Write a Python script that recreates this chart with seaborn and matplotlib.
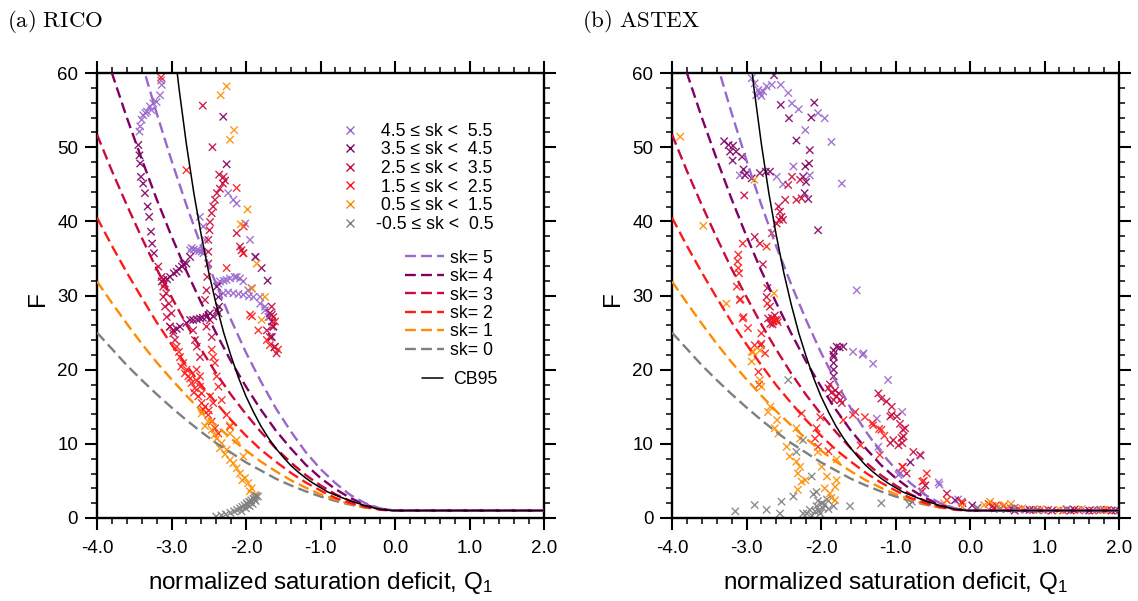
import numpy as np
import pandas as pd
import matplotlib
matplotlib.use("Agg")
import matplotlib.pyplot as plt
from matplotlib.lines import Line2D
from matplotlib.ticker import MultipleLocator
import seaborn as sns

sns.set_style("ticks")
plt.rcParams['font.family'] = ['Liberation Sans', 'DejaVu Sans']
plt.rcParams['mathtext.fontset'] = 'custom'
plt.rcParams['mathtext.rm'] = 'Liberation Sans'
plt.rcParams['mathtext.it'] = 'Liberation Sans:italic'
for k in ['text.color', 'axes.labelcolor', 'xtick.color', 'ytick.color', 'axes.edgecolor']:
    plt.rcParams[k] = 'black'

# ---------------- data ----------------
classes = ["4.5 ≤ sk <  5.5", "3.5 ≤ sk <  4.5", "2.5 ≤ sk <  3.5",
           "1.5 ≤ sk <  2.5", "0.5 ≤ sk <  1.5", "-0.5 ≤ sk <  0.5"]
class_colors = ["#9966CC", "#800064", "#C80A3C", "#FF1A1A", "#FF8C00", "#7F7F7F"]

# RICO
rico_sk5_q = [-3.14,-3.13,-3.154,-3.2,-3.244,-3.29,-3.33,-3.38,-3.40,-3.42,-3.43,-3.27,-3.35,
              -2.73,-2.66,-2.595,-2.75,-2.70,-2.63,-2.57,-2.62,-2.573,-2.55,
              -2.24,-2.17,-2.125,-2.01,-1.946,-1.88,
              -2.35,-2.215,-2.125,-2.036,-1.97,-2.37,-2.26,-2.15,-1.924,-1.81,-1.745,-1.70,-2.30,-2.08,
              -2.305,-2.17,-2.036,-1.90,-1.81,-1.745,-1.68,-1.655,-1.655,-2.24,-2.10,-1.96]
rico_sk5_f = [59.0,58.4,57.0,56.1,55.9,55.5,54.8,54.3,53.7,52.8,52.1,55.0,54.6,
              36.4,36.1,35.9,36.1,36.2,36.0,35.7,40.6,39.3,37.5,
              43.8,42.9,42.4,39.7,37.5,35.2,
              31.9,32.3,32.5,31.9,30.7,31.6,32.1,32.5,31.0,29.8,28.5,27.1,32.0,32.3,
              30.3,30.3,30.1,29.8,28.9,28.0,27.1,25.8,24.4,30.4,30.2,29.9]
rico_sk4_q = [-3.445,-3.43,-3.42,-3.41,-3.38,-3.356,-3.32,-3.30,-3.275,-3.26,-3.235,
              -3.11,-3.02,-2.93,-2.86,-2.80,-2.75,-3.13,-2.97,-2.84,-3.06,-2.90,
              -2.976,-2.886,-2.80,-2.71,-2.617,-2.53,-2.44,-2.37,-2.36,-2.37,-2.39,
              -3.02,-2.75,-2.483,-2.39,-2.93,-2.66,-2.58,
              -2.305,-2.26,-1.87,-1.79,-1.71,-1.68,-1.633,-1.655,-1.62,-1.65]
rico_sk4_f = [50.3,48.9,47.8,46.0,45.1,43.8,42.0,40.6,38.6,37.0,35.7,
              32.1,32.5,33.2,33.9,34.3,35.2,31.9,33.0,34.2,32.2,33.6,
              25.3,25.8,26.3,26.7,26.9,27.1,27.2,27.6,28.5,29.8,31.2,
              25.8,26.7,27.6,28.0,25.5,26.8,27.0,
              54.1,47.7,35.2,33.7,32.0,27.6,25.8,24.4,23.0,26.5]
rico_sk3_q = [-2.58,-2.45,-2.36,-2.31,-2.35,-2.39,-2.416,-2.44,-2.46,-2.483,-2.49,-2.506,-2.506,-2.506,-2.52,-2.53,-2.55,
              -2.125,-2.06,-1.655,-1.633,-1.68,-2.08,-2.036,-1.72,-1.61,-1.59,-1.633,-1.655,
              -3.177,-3.133,-3.11,-3.11,-3.087,-3.064,-3.02,-2.976,-2.953,-3.09,-3.07,-3.034,-3.0,
              -2.71,-2.685,-2.66,-2.617,-2.53,-2.46,-2.483,-2.30,-2.28]
rico_sk3_f = [55.6,50.0,46.3,45.1,44.4,43.8,42.9,42.0,41.1,39.9,38.8,37.5,35.9,34.3,32.5,30.7,29.4,
              38.4,36.1,27.4,25.8,24.4,36.6,35.7,25.3,23.1,22.2,27.1,28.5,
              33.9,32.5,31.2,29.8,28.5,27.1,25.8,24.9,24.0,31.6,30.3,28.9,27.6,
              25.3,24.0,23.1,21.7,25.8,24.4,26.7,46.0,45.5]
rico_sk2_q = [-2.93,-2.886,-2.842,-2.796,-2.774,-2.73,-2.685,-2.64,-2.595,-2.573,-2.506,-2.46,-2.416,-2.37,
              -2.663,-2.617,-2.617,-2.595,-2.483,-2.44,-2.326,-2.26,-2.215,
              -2.46,-2.44,-2.416,-2.393,-2.37,
              -2.80,-2.125,-2.26,-1.92,-2.03,-2.036,-3.14,
              -1.946,-1.835,-1.72,-1.61,-1.68,-1.57,
              -2.82,-2.75,-2.70,-2.66,-2.55,-2.50,-2.87,-2.90]
rico_sk2_f = [23.1,21.7,20.9,20.0,19.1,18.2,17.5,16.4,15.5,14.6,13.9,13.0,12.1,11.4,
              20.0,19.1,17.7,16.8,16.4,15.5,15.9,13.9,12.3,
              22.7,21.7,20.9,19.1,17.7,
              46.9,44.5,33.7,27.2,39.3,35.7,59.4,
              27.4,25.3,24.0,26.5,23.3,22.7,
              19.5,18.8,16.9,18.5,15.0,14.5,20.4,22.4]
rico_sk1_q = [-2.595,-2.506,-2.46,-2.393,-2.326,-2.259,-2.215,-2.17,-2.125,-2.08,-2.013,-1.97,-1.924,-1.88,
              -2.215,-2.125,-2.036,-2.215,-2.35,-2.28,-2.05,-1.95,-2.55,-2.42,
              -2.26,-2.34,-2.16,-2.215,-1.98,-2.07,-1.856,-1.92,-1.745,-1.79]
rico_sk1_f = [14.1,13.0,11.9,10.7,10.1,9.2,7.8,7.4,6.7,6.0,5.4,4.7,4.0,3.1,
              12.5,10.5,8.3,11.4,9.4,8.6,5.1,3.6,12.4,11.2,
              58.2,57.0,52.3,51.0,41.6,39.6,34.3,30.9,29.8,26.7]
rico_sk0_q = [-2.40,-2.33,-2.27,-2.21,-2.16,-2.12,-2.08,-2.05,-2.02,-1.99,-1.96,-1.93,-1.90,-1.88,-1.86,
              -1.84,-1.87,-1.91,-1.95,-2.00,-2.06,-1.89,-1.94,-1.98]
rico_sk0_f = [0.2,0.35,0.5,0.7,0.9,1.1,1.3,1.5,1.7,2.0,2.2,2.4,2.6,2.8,3.0,
              2.9,2.3,1.9,1.6,1.3,0.9,2.5,2.1,1.8]

# ASTEX
astex_sk5_q = [-2.93,-2.89,-2.84,-2.82,-2.775,-2.73,-2.66,-2.54,-2.44,-2.39,-2.30,-2.21,-2.04,-1.95,-1.86,-1.72,
               -1.52,-1.43,-2.15,-2.37,-2.595,-2.51,-3.0,-3.09,-2.87,-2.80,
               -1.57,-1.30,-1.10,-0.91,-1.25,-1.23,-0.94,-0.42,-0.65,-0.78,-0.66,-0.96,-0.41,-0.16,-1.44,
               0.1,0.5,0.75,1.0,1.3,1.55,1.8,2.0]
astex_sk5_f = [59.3,58.6,57.7,57.3,57.5,58.2,58.4,58.4,57.3,55.9,55.1,52.3,54.6,53.9,50.7,45.1,
               30.7,22.2,46.2,47.4,46.0,45.0,46.5,46.2,57.0,56.9,
               22.4,20.8,18.6,14.3,13.4,9.6,6.0,4.8,3.5,2.2,8.4,5.8,4.5,2.5,22.0,
               1.4,1.2,1.1,1.0,1.1,1.0,1.1,1.0]
astex_sk4_q = [-2.63,-2.54,-2.43,-2.33,-2.15,-2.09,-2.13,-2.21,-2.24,-2.22,-2.04,-2.16,-2.20,-2.17,
               -3.30,-3.24,-3.18,-3.22,-3.14,-3.186,-3.06,-3.04,-3.02,-2.93,-2.82,-2.74,-2.685,
               -1.835,-1.79,-1.70,-1.83,-1.83,-1.83,-1.83,-1.83,-1.75,-0.80,-0.60,
               0.03,0.33,0.60,0.8,1.1,1.4,1.6,1.9,-0.2]
astex_sk4_f = [59.7,55.7,53.9,50.9,49.6,56.0,54.0,47.4,46.0,43.8,38.8,47.8,45.3,43.0,
               50.8,50.3,50.2,49.4,49.4,48.2,48.7,47.0,46.2,45.8,46.5,46.7,46.7,
               22.0,23.1,23.1,22.6,21.7,20.9,20.0,19.1,23.0,7.5,4.4,
               1.7,1.3,1.0,1.1,1.0,1.1,1.0,1.0,2.4]
astex_sk3_q = [-2.57,-2.55,-2.53,-2.51,-2.56,-2.595,-2.48,-2.39,-2.33,-2.26,-2.44,-2.28,-3.03,-2.89,-2.78,-2.82,
               -2.72,-2.73,-2.685,-2.81,-2.65,
               -2.71,-2.64,-2.59,-2.68,-2.62,-2.66,
               -1.90,-1.86,-1.79,-1.74,-1.83,-1.72,-1.88,-1.81,-1.76,
               -1.23,-1.19,-1.12,-1.05,-1.05,-0.98,-0.94,-0.90,-0.89,-0.91,-0.96,-0.92,-0.87,-1.07,-1.03,-1.07,
               -0.85,-0.76,-0.67,
               -0.31,-0.1,0.3,0.55,0.9,1.35,1.75,1.95]
astex_sk3_f = [42.0,41.3,40.6,40.2,40.2,39.7,42.9,46.0,42.9,43.1,44.9,45.6,43.5,37.9,34.2,37.0,
               31.0,29.8,28.5,23.3,26.1,
               26.9,26.5,26.7,26.2,27.3,27.0,
               17.5,16.9,16.4,15.9,15.9,15.5,18.0,17.2,16.8,
               16.8,16.1,15.7,15.0,13.9,13.7,12.7,11.9,11.0,10.1,9.8,10.8,12.1,13.7,10.5,10.1,
               6.0,8.9,8.5,
               3.3,2.0,1.6,1.3,1.1,1.0,1.1,1.0]
astex_sk2_q = [-3.11,-3.12,-3.11,-3.10,-3.13,-3.08,-3.05,-2.98,-3.05,-2.89,-2.75,-2.73,-2.66,-2.64,-2.61,-2.58,
               -3.09,-2.72,-3.04,-2.80,-2.80,-2.84,-2.83,
               -2.26,-2.01,-2.06,-2.08,-2.04,-1.90,-1.70,-1.57,-1.41,-1.30,-1.19,-1.21,-0.91,-0.64,-0.58,-0.64,
               -1.54,-1.31,-1.22,-1.15,-1.47,-0.90,-0.62,-0.31,-0.11,
               0.25,0.45,0.65,0.85,1.05,1.25,1.45,1.65,1.85,0.35]
astex_sk2_f = [35.5,34.6,33.7,33.0,31.2,29.5,26.9,25.6,37.0,23.3,22.2,36.6,38.4,26.6,26.7,26.4,
               29.4,28.9,27.1,24.9,23.5,19.7,18.0,
               14.1,13.6,12.1,10.7,9.6,9.0,13.2,13.9,13.6,12.5,11.9,8.5,6.9,4.9,6.0,3.6,
               14.3,12.8,12.0,11.1,9.8,6.9,5.0,2.4,2.2,
               1.9,1.6,1.2,1.1,1.1,1.0,1.1,1.0,1.1,1.7]
astex_sk1_q = [-3.89,-3.58,-3.27,-2.63,-2.895,-2.93,-2.91,-2.82,-2.93,-2.82,-2.80,-2.68,-2.71,-2.59,-2.57,-2.62,
               -2.46,-2.42,-2.33,-2.28,-2.31,-2.21,-2.26,-2.31,-2.33,-2.28,-2.04,-1.99,-1.92,-1.95,-1.88,-1.81,
               -1.79,-1.81,-1.86,-1.79,
               -0.35,0.19,0.27,0.39,0.46,0.7,0.95,1.2,1.5,1.8,0.55,-0.1]
astex_sk1_f = [51.4,39.4,28.9,30.3,45.6,22.4,22.4,22.6,21.1,18.6,17.7,15.0,14.3,13.2,11.4,12.1,
               9.6,8.3,7.6,6.9,6.0,5.1,4.9,3.8,12.1,10.7,8.9,6.9,5.6,4.0,3.3,4.2,
               5.1,2.4,2.7,7.9,
               2.0,1.75,2.2,1.55,1.75,1.3,1.2,1.1,1.2,1.1,1.9,1.5]
astex_sk0_q = [-2.44,-2.73,-2.55,-2.53,-2.37,-2.24,-2.33,-2.125,-2.06,-2.10,-2.19,-2.15,-2.06,-1.99,-1.97,-2.01,
               -1.92,-1.83,-1.61,-1.19,-0.81,-2.24,-3.15,-2.89,-2.12,-2.08,-2.03,-1.95,-2.04,-1.90,
               0.1,0.4,0.9,1.3,1.7,0.6]
astex_sk0_f = [18.6,1.1,0.6,2.2,2.9,10.5,8.9,5.6,3.5,3.2,0.6,1.1,1.6,2.0,1.3,0.6,
               2.5,1.6,1.6,2.0,1.8,0.6,0.9,1.75,0.3,0.9,1.0,1.8,2.3,1.2,
               1.3,1.2,1.1,1.2,1.1,1.4]

# theoretical curves
curve_q = [-4.0,-3.8,-3.6,-3.4,-3.2,-3.0,-2.8,-2.6,-2.4,-2.2,-2.0,-1.8,-1.6,-1.4,-1.2,-1.0,
           -0.8,-0.6,-0.4,-0.2,0.0,2.0]
sk5_f = [84.2,76.2,68.6,61.4,54.6,48.2,42.2,36.6,31.5,26.7,22.3,18.4,14.8,11.7,8.9,6.6,4.7,3.1,2.0,1.3,1.0,1.0]
sk4_f = [66.3,60.0,54.0,48.4,43.0,38.0,33.3,29.0,24.9,21.1,17.7,14.6,11.8,9.4,7.2,5.4,3.9,2.7,1.8,1.2,1.0,1.0]
sk3_f = [51.7,46.8,42.2,37.8,33.6,29.8,26.1,22.7,19.5,16.6,14.0,11.6,9.4,7.5,5.8,4.4,3.2,2.3,1.6,1.2,1.0,1.0]
sk2_f = [40.5,36.7,33.1,29.7,26.4,23.4,20.6,17.9,15.5,13.2,11.1,9.2,7.6,6.1,4.8,3.7,2.7,2.0,1.5,1.1,1.0,1.0]
sk1_f = [31.9,29.0,26.2,23.5,21.0,18.7,16.5,14.4,12.5,10.7,9.1,7.6,6.3,5.1,4.1,3.2,2.5,1.9,1.4,1.2,1.0,1.0]
sk0_f = [25.0,22.8,20.6,18.6,16.7,14.9,13.2,11.6,10.1,8.8,7.5,6.4,5.3,4.4,3.6,2.9,2.3,1.8,1.4,1.2,1.0,1.0]
curve_labels = ["sk= 5", "sk= 4", "sk= 3", "sk= 2", "sk= 1", "sk= 0"]
curve_colors = ["#9966CC", "#800064", "#C80A3C", "#FF1A1A", "#FF8C00", "#7F7F7F"]

cb95_q = [-3.0,-2.9,-2.8,-2.7,-2.6,-2.5,-2.4,-2.3,-2.2,-2.1,-2.0,-1.9,-1.8,-1.7,-1.6,-1.5,-1.4,-1.3,
          -1.2,-1.1,-1.0,-0.9,-0.8,-0.7,-0.6,-0.5,-0.4,-0.3,-0.2,-0.1,0.0,2.0]
cb95_f = [66.7,58.0,50.4,43.8,38.1,33.1,28.8,25.0,21.8,18.9,16.4,14.3,12.4,10.8,9.4,8.2,7.1,6.2,
          5.4,4.7,4.1,3.5,3.1,2.7,2.3,2.0,1.65,1.4,1.2,1.06,1.0,1.0]

x_ticks = [-4.0, -3.0, -2.0, -1.0, 0.0, 1.0, 2.0]
x_ticklabels = ["-4.0", "-3.0", "-2.0", "-1.0", "0.0", "1.0", "2.0"]
y_ticks = [0, 10, 20, 30, 40, 50, 60]


def panel_frame(qs, fs):
    rows = []
    for cls, q, f in zip(classes, qs, fs):
        for a, b in zip(q, f):
            rows.append((cls, a, b))
    return pd.DataFrame(rows, columns=["cls", "Q1", "F"])


rico_df = panel_frame([rico_sk5_q, rico_sk4_q, rico_sk3_q, rico_sk2_q, rico_sk1_q, rico_sk0_q],
                      [rico_sk5_f, rico_sk4_f, rico_sk3_f, rico_sk2_f, rico_sk1_f, rico_sk0_f])
astex_df = panel_frame([astex_sk5_q, astex_sk4_q, astex_sk3_q, astex_sk2_q, astex_sk1_q, astex_sk0_q],
                       [astex_sk5_f, astex_sk4_f, astex_sk3_f, astex_sk2_f, astex_sk1_f, astex_sk0_f])
curves = [sk5_f, sk4_f, sk3_f, sk2_f, sk1_f, sk0_f]

# ---------------- figure ----------------
W, H = 1138, 601
fig = plt.figure(figsize=(W / 100, H / 100), dpi=100)
ax1 = fig.add_axes([97 / W, 1 - 518 / H, 447 / W, 445 / H])
ax2 = fig.add_axes([672 / W, 1 - 518 / H, 447 / W, 445 / H])

dash = (0, (4.6, 2.2))
plot_order = classes[::-1]
pal = dict(zip(classes, class_colors))

for ax, df in ((ax1, rico_df), (ax2, astex_df)):
    sns.scatterplot(data=df, x="Q1", y="F", hue="cls", hue_order=plot_order, palette=pal,
                    marker="x", s=28, linewidth=1.0, alpha=0.9, legend=False, ax=ax, zorder=2)
    for vals, col in list(zip(curves, curve_colors))[::-1]:
        sns.lineplot(x=curve_q, y=vals, color=col, lw=1.7, linestyle=dash, ax=ax, zorder=3)
    sns.lineplot(x=cb95_q, y=cb95_f, color="black", lw=1.1, ax=ax, zorder=4)

    ax.set_xlim(-4.0, 2.0)
    ax.set_ylim(0, 60)
    ax.set_xticks(x_ticks)
    ax.set_xticklabels(x_ticklabels)
    ax.set_yticks(y_ticks)
    ax.xaxis.set_minor_locator(MultipleLocator(0.2))
    ax.yaxis.set_minor_locator(MultipleLocator(2))
    ax.tick_params(which="both", direction="out", top=True, right=True,
                   labeltop=False, labelright=False, labelsize=13.5, colors="black")
    ax.tick_params(axis="x", which="major", pad=7)
    ax.tick_params(axis="y", which="major", pad=5)
    ax.tick_params(which="major", length=8.5, width=1.5)
    ax.tick_params(which="minor", length=4.2, width=1.1)
    for sp in ax.spines.values():
        sp.set_linewidth(1.7)
        sp.set_color("black")
        sp.set_visible(True)
    ax.set_xlabel("normalized saturation deficit, Q$_1$", fontsize=17.5, color="black")
    ax.set_ylabel("F", fontsize=17.5, color="black")
    ax.xaxis.set_label_coords(0.5, -0.147)
    ax.xaxis.label.set_va("center")
    ax.yaxis.set_label_coords(-0.133, 0.494)
    ax.yaxis.label.set_va("center")

fig.text(7 / W, 1 - 27 / H, r"$\mathrm{(a)\ RICO}$", math_fontfamily="cm", fontsize=16.5,
         va="baseline", color="black")
fig.text(582 / W, 1 - 27 / H, r"$\mathrm{(b)\ ASTEX}$", math_fontfamily="cm", fontsize=16.5,
         va="baseline", color="black")

# legends (left panel only)
h1 = [Line2D([], [], marker="x", linestyle="none", color=c, markersize=6, mew=1.0) for c in class_colors]
lab1 = [(" " + c) if not c.startswith("-") else c for c in classes]
leg1 = ax1.legend(h1, lab1, loc="upper left", bbox_to_anchor=(0.545, 0.888), frameon=False,
                  fontsize=12.8, labelspacing=0.09, handlelength=1.0, handletextpad=1.0,
                  borderpad=0, borderaxespad=0, labelcolor="black")
ax1.add_artist(leg1)

h2 = [Line2D([], [], color=c, lw=1.7, linestyle=dash) for c in curve_colors]
leg2 = ax1.legend(h2, curve_labels, loc="upper left", bbox_to_anchor=(0.688, 0.603), frameon=False,
                  fontsize=12.8, labelspacing=0.08, handlelength=2.2, handletextpad=0.35,
                  borderpad=0, borderaxespad=0, labelcolor="black")
ax1.add_artist(leg2)

h3 = [Line2D([], [], color="black", lw=1.1)]
leg3 = ax1.legend(h3, ["CB95"], loc="upper left", bbox_to_anchor=(0.727, 0.33), frameon=False,
                  fontsize=12.8, handlelength=1.2, handletextpad=0.55, borderpad=0, borderaxespad=0,
                  labelcolor="black")

fig.savefig("out.png", dpi=100)
